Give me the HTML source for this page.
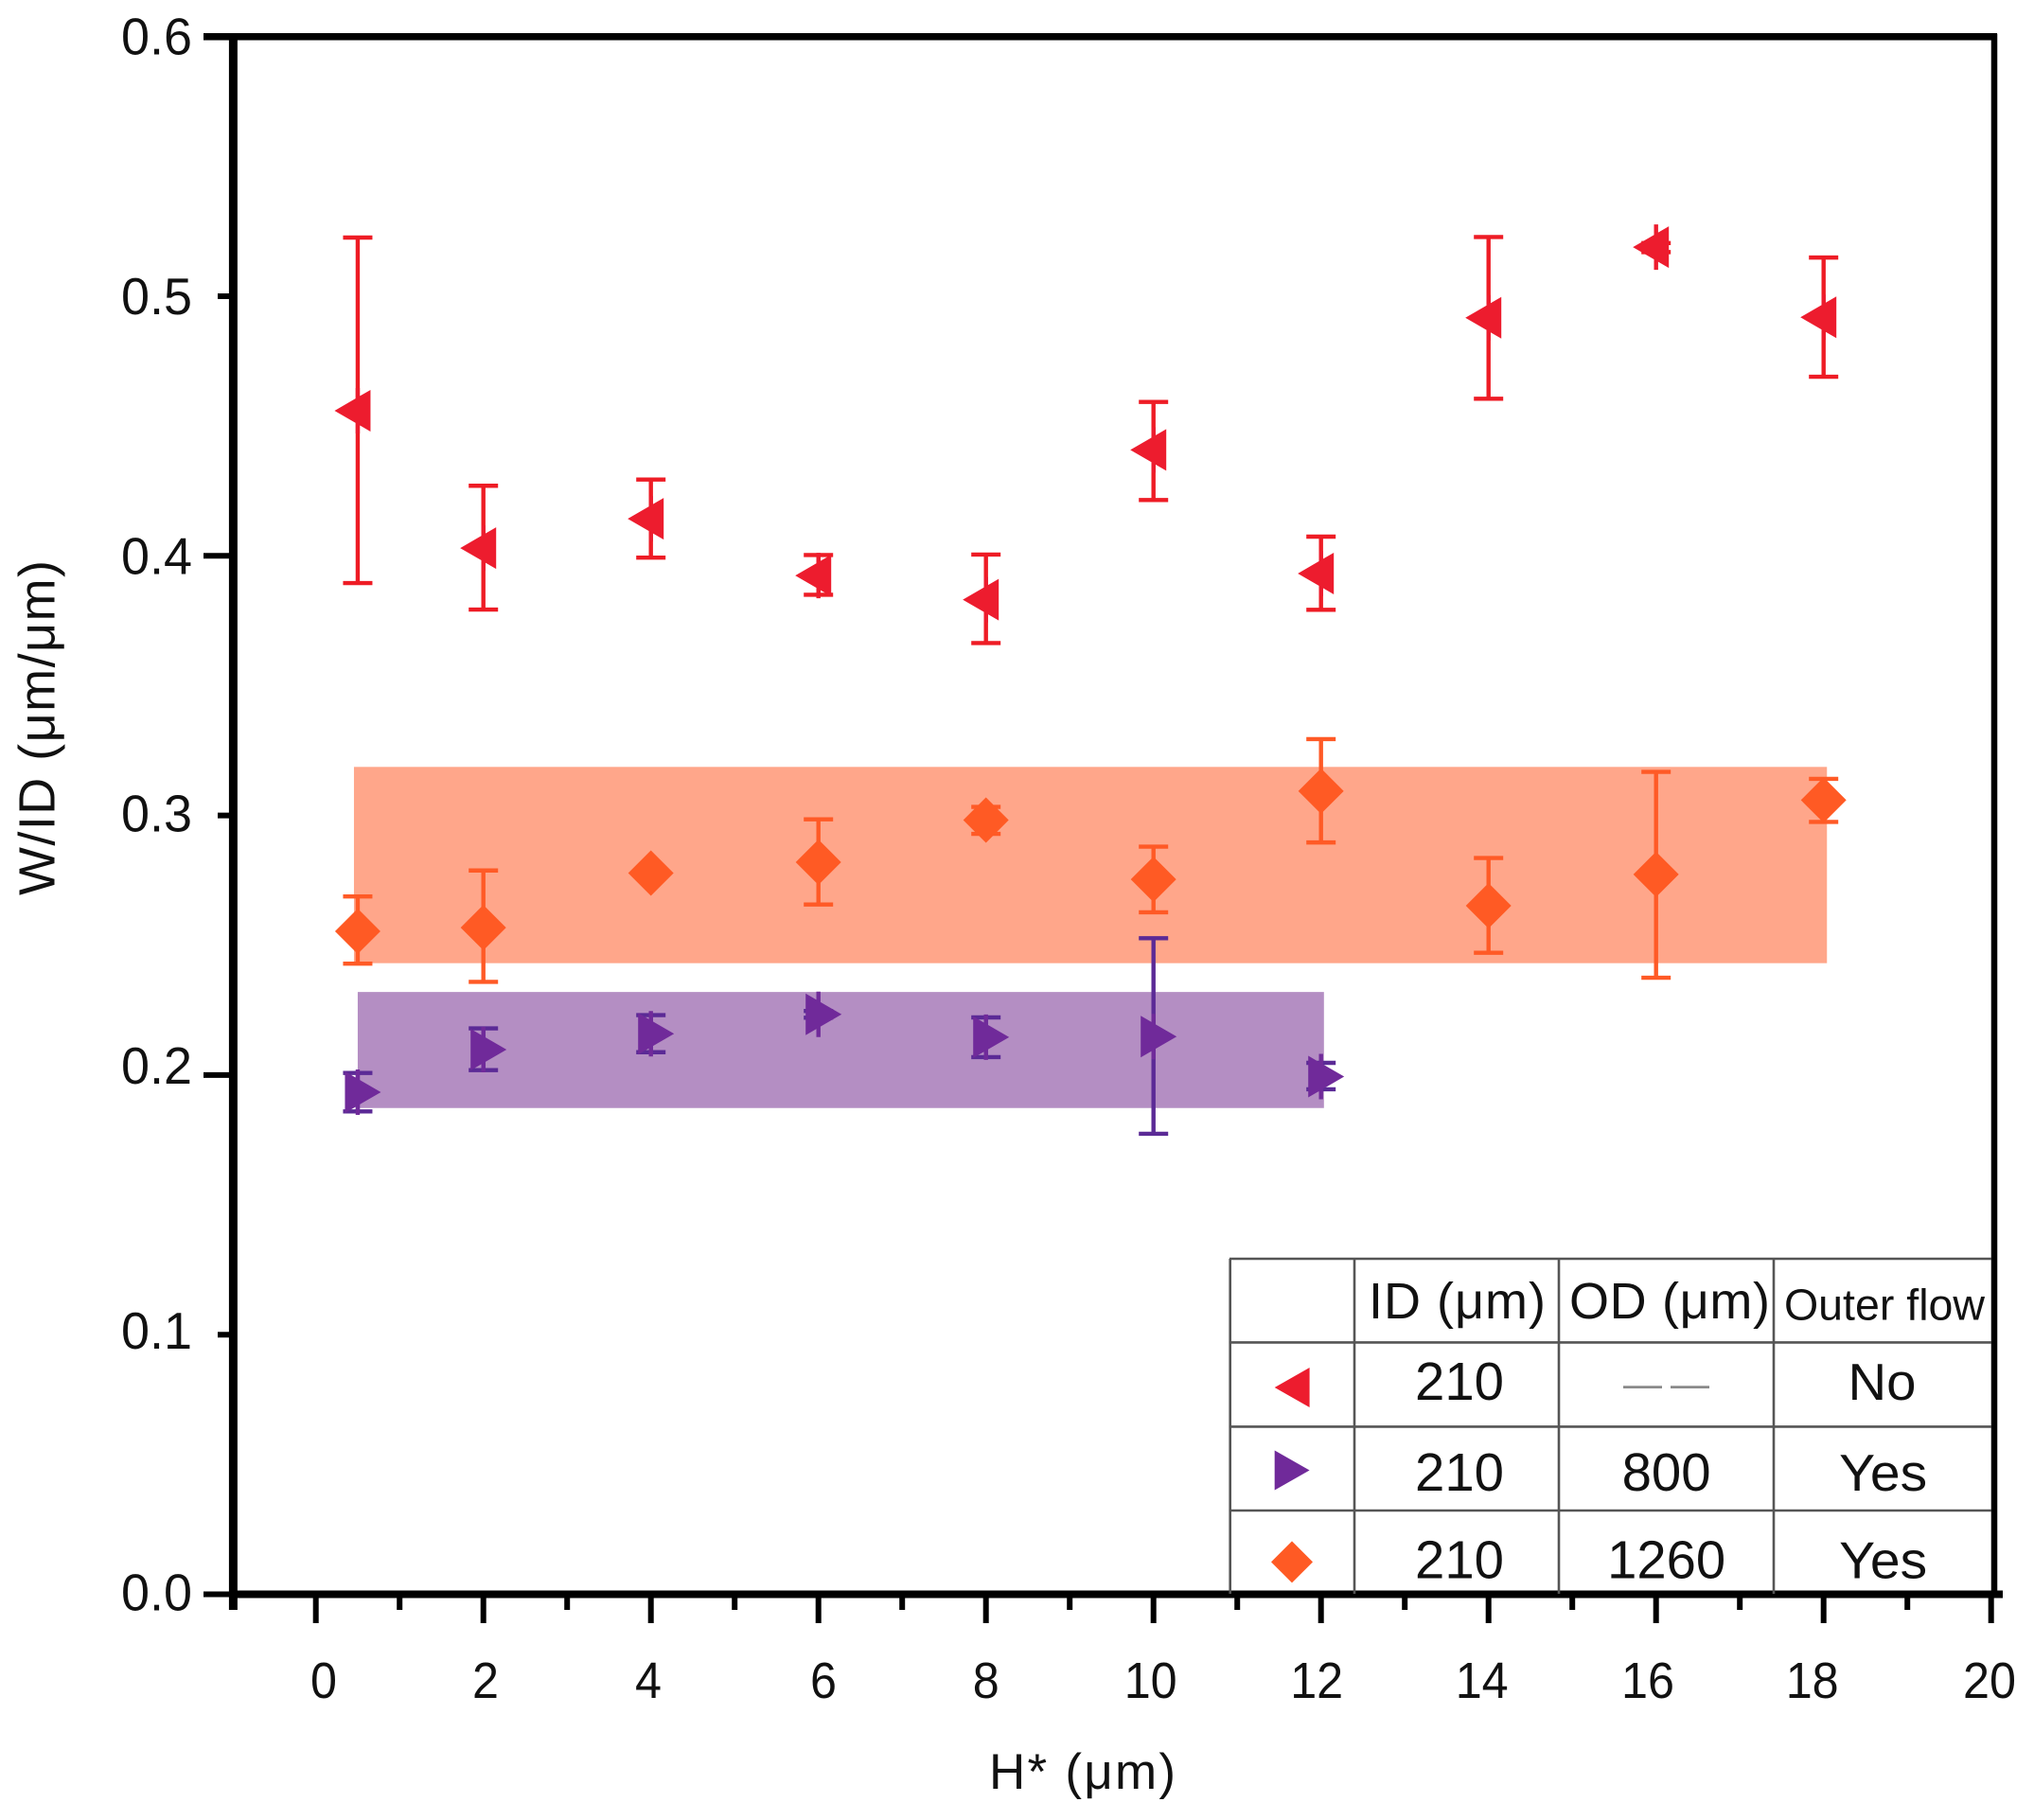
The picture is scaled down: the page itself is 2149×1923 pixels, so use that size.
<!DOCTYPE html>
<html lang="en">
<head>
<meta charset="utf-8">
<title>W/ID versus H*</title>
<style>
html,body{margin:0;padding:0;background:#fff;}
svg{display:block;font-family:"Liberation Sans",Arial,sans-serif;}
text{fill:#111;}
.tb{stroke:#555;stroke-width:2.6;}
</style>
</head>
<body>
<svg id="chart" xmlns="http://www.w3.org/2000/svg" width="2149" height="1923" viewBox="0 0 2149 1923">
  <rect x="0" y="0" width="2149" height="1923" fill="#fff"/>
  <g id="bands"></g>
  <g id="errors"></g>
  <g id="marks"></g>
  <g id="axes"></g>

  <text x="1045" y="1890" font-size="53" textLength="197" lengthAdjust="spacing">H* (μm)</text>
  <text transform="translate(57.3,946) rotate(-90)" x="0" y="0" font-size="54" textLength="354" lengthAdjust="spacing">W/ID (μm/μm)</text>

  <g>
    <g>
      <line class="tb" x1="1299" y1="1330" x2="2104" y2="1330"/>
      <line class="tb" x1="1299" y1="1418.4" x2="2104" y2="1418.4"/>
      <line class="tb" x1="1299" y1="1507.4" x2="2104" y2="1507.4"/>
      <line class="tb" x1="1299" y1="1596" x2="2104" y2="1596"/>
      <line class="tb" x1="1299.7" y1="1330" x2="1299.7" y2="1684"/>
      <line class="tb" x1="1431" y1="1330" x2="1431" y2="1684"/>
      <line class="tb" x1="1647" y1="1330" x2="1647" y2="1684"/>
      <line class="tb" x1="1874" y1="1330" x2="1874" y2="1684"/>
    </g>
    <text x="1446" y="1393" font-size="54" textLength="187" lengthAdjust="spacing">ID (μm)</text>
    <text x="1658" y="1393" font-size="54" textLength="212" lengthAdjust="spacing">OD (μm)</text>
    <text x="1885" y="1394.5" font-size="46" textLength="212" lengthAdjust="spacingAndGlyphs">Outer flow</text>

    <polygon points="1346.7,1466 1383.6,1445 1383.6,1487" fill="#ED1C2E"/>
    <polygon points="1383.6,1553.5 1346.7,1532.5 1346.7,1574.5" fill="#702A9A"/>
    <polygon points="1343,1650.4 1365,1628.4 1387,1650.4 1365,1672.4" fill="#FF5A24"/>

    <text x="1542" y="1479" font-size="57" text-anchor="middle" textLength="94" lengthAdjust="spacingAndGlyphs">210</text>
    <text x="1765" y="1476" font-size="41" text-anchor="middle" letter-spacing="9" style="fill:#8a8a8a">——</text>
    <text x="1988.5" y="1479" font-size="55" text-anchor="middle" textLength="72" lengthAdjust="spacingAndGlyphs">No</text>
    <text x="1542" y="1575" font-size="57" text-anchor="middle" textLength="94" lengthAdjust="spacingAndGlyphs">210</text>
    <text x="1760.6" y="1575" font-size="57" text-anchor="middle" textLength="94" lengthAdjust="spacingAndGlyphs">800</text>
    <text x="1989.6" y="1575" font-size="55" text-anchor="middle" textLength="93" lengthAdjust="spacingAndGlyphs">Yes</text>
    <text x="1542" y="1667.5" font-size="57" text-anchor="middle" textLength="94" lengthAdjust="spacingAndGlyphs">210</text>
    <text x="1760.6" y="1667.5" font-size="57" text-anchor="middle" textLength="125" lengthAdjust="spacingAndGlyphs">1260</text>
    <text x="1989.6" y="1667.5" font-size="55" text-anchor="middle" textLength="93" lengthAdjust="spacingAndGlyphs">Yes</text>
  </g>
</svg>
<script>
// ---- Data ----
const redH = [0.5, 2, 4, 6, 8, 10, 12, 14, 16, 18];
const redW = [0.4559, 0.403, 0.4143, 0.3924, 0.3831, 0.4408, 0.3932, 0.4917, 0.5189, 0.4919];
const redHigh = [0.5226, 0.427, 0.4294, 0.4003, 0.4005, 0.4593, 0.4074, 0.5228, 0.5205, 0.5149];
const redLow = [0.3895, 0.3793, 0.3993, 0.385, 0.3664, 0.4215, 0.3792, 0.4605, 0.517, 0.469];

const orangeH = [0.5, 2, 4, 6, 8, 10, 12, 14, 16, 18];
const orangeW = [0.2554, 0.2568, 0.2778, 0.282, 0.2982, 0.2754, 0.3094, 0.2652, 0.2773, 0.3059];
const orangeHigh = [0.2688, 0.2788, 0.2788, 0.2985, 0.3033, 0.288, 0.3294, 0.2836, 0.3168, 0.3141];
const orangeLow = [0.2429, 0.2359, 0.2768, 0.2657, 0.2929, 0.2627, 0.2896, 0.2471, 0.2375, 0.2975];

const purpleH = [0.5, 2, 4, 6, 8, 10, 12];
const purpleW = [0.1934, 0.2098, 0.2159, 0.2234, 0.2146, 0.2148, 0.1994];
const purpleHigh = [0.2008, 0.218, 0.2231, 0.2247, 0.2222, 0.2527, 0.2047];
const purpleLow = [0.186, 0.2019, 0.2088, 0.2221, 0.2069, 0.1774, 0.1945];

const orangeBandH = [0.455, 18.04];
const orangeBandW = [0.2431, 0.3187];
const purpleBandH = [0.5, 12.035];
const purpleBandW = [0.1873, 0.232];

const xTickValues = [0, 2, 4, 6, 8, 10, 12, 14, 16, 18, 20];
const xTickLabels = ['0', '2', '4', '6', '8', '10', '12', '14', '16', '18', '20'];
const xMinorValues = [-1, 1, 3, 5, 7, 9, 11, 13, 15, 17, 19];
const yTickValues = [0, 0.2, 0.4, 0.6];
const yMinorValues = [0.1, 0.3, 0.5];
const yLabelValues = [0, 0.1, 0.2, 0.3, 0.4, 0.5, 0.6];
const yTickLabels = ['0.0', '0.1', '0.2', '0.3', '0.4', '0.5', '0.6'];

// ---- Axis functions ----
function xScale(v) { return 333.7 + 88.5 * v; }
function yScale(v) { return 1684.5 - 2743 * v; }

const SVGNS = 'http://www.w3.org/2000/svg';
function make(parent, tag, name, props) {
  const el = document.createElementNS(SVGNS, tag);
  
  
  for (const k in props) el.setAttribute(k, props[k]);
  parent.appendChild(el);
  return el;
}

const bandsG = document.getElementById('bands');
const errorsG = document.getElementById('errors');
const marksG = document.getElementById('marks');
const axesG = document.getElementById('axes');

function drawBand(name, hs, ws, fill) {
  make(bandsG, 'rect', name, {
    x: xScale(hs[0]), y: yScale(ws[1]),
    width: xScale(hs[1]) - xScale(hs[0]),
    height: yScale(ws[0]) - yScale(ws[1]),
    fill: fill
  });
}
drawBand('orange-range-band', orangeBandH, orangeBandW, '#FFA68A');
drawBand('purple-range-band', purpleBandH, purpleBandW, '#B48EC3');

function drawError(name, h, hi, lo, color) {
  const x = xScale(h), yh = yScale(hi), yl = yScale(lo);
  make(errorsG, 'path', name, {
    d: 'M' + x + ' ' + yh + 'V' + yl +
       'M' + (x - 15.5) + ' ' + yh + 'H' + (x + 15.5) +
       'M' + (x - 15.5) + ' ' + yl + 'H' + (x + 15.5),
    stroke: color, 'stroke-width': 4.4, fill: 'none'
  });
}

// Triangles carry a short stem through the data x, as the Origin symbols do.
// Both subpaths wind clockwise so the nonzero fill keeps the overlap solid.
function triLeft(name, h, w, color) {
  const x = xScale(h), y = yScale(w);
  make(marksG, 'path', name, {
    d: 'M' + (x - 24.5) + ' ' + y + 'L' + (x + 13.5) + ' ' + (y - 22) + 'V' + (y + 22) + 'Z' +
       'M' + (x - 2.2) + ' ' + (y - 24) + 'h4.4v48h-4.4Z',
    fill: color
  });
}
function triRight(name, h, w, color) {
  const x = xScale(h), y = yScale(w);
  make(marksG, 'path', name, {
    d: 'M' + (x + 24.5) + ' ' + y + 'L' + (x - 13.5) + ' ' + (y + 22) + 'V' + (y - 22) + 'Z' +
       'M' + (x - 2.2) + ' ' + (y - 24) + 'h4.4v48h-4.4Z',
    fill: color
  });
}
function diamond(name, h, w, color) {
  const x = xScale(h), y = yScale(w);
  make(marksG, 'polygon', name, {
    points: (x - 24) + ',' + y + ' ' + x + ',' + (y - 24) + ' ' + (x + 24) + ',' + y + ' ' + x + ',' + (y + 24),
    fill: color
  });
}

orangeH.forEach(function (h, i) {
  drawError('orange-error-bar-' + h, h, orangeHigh[i], orangeLow[i], '#FF5A26');
  diamond('orange-point-' + h, h, orangeW[i], '#FF5A24');
});
purpleH.forEach(function (h, i) {
  drawError('purple-error-bar-' + h, h, purpleHigh[i], purpleLow[i], '#5B2A96');
  triRight('purple-point-' + h, h, purpleW[i], '#702A9A');
});
redH.forEach(function (h, i) {
  drawError('red-error-bar-' + h, h, redHigh[i], redLow[i], '#EE1C25');
  triLeft('red-point-' + h, h, redW[i], '#ED1C2E');
});

// ---- Axes ----
const xLeft = 246.4, xRight = 2107, yTop = 38.8, yBottom = 1684.5;
function axisLine(name, x1, y1, x2, y2, w) {
  make(axesG, 'line', name, { x1: x1, y1: y1, x2: x2, y2: y2, stroke: '#000', 'stroke-width': w });
}
axisLine('top-axis-line', 215, yTop, xRight + 3, yTop, 7.5);
axisLine('right-axis-line', xRight, yTop - 3, xRight, yBottom, 6.5);
axisLine('bottom-axis-line', xLeft - 4, yBottom, 2116, yBottom, 8);
axisLine('left-axis-line', xLeft, yTop - 3, xLeft, 1701, 9);

xTickValues.forEach(function (v) {
  axisLine('x-major-tick-' + v, xScale(v), yBottom, xScale(v), 1715, 6);
});
xMinorValues.forEach(function (v) {
  axisLine('x-minor-tick-' + v, xScale(v), yBottom, xScale(v), 1701, 6);
});
yTickValues.forEach(function (v) {
  axisLine('y-major-tick-' + v, 215, yScale(v), xLeft, yScale(v), 6);
});
yMinorValues.forEach(function (v) {
  axisLine('y-minor-tick-' + v, 230, yScale(v), xLeft, yScale(v), 6);
});

// Tick-label placement nudges to follow the hand-set labels of the figure.
function xLabelNudge(v) {
  if (v === 0) return 8.3;
  if (v === 2) return 2.3;
  if (v === 4) return -2.7;
  if (v === 6) return 5.3;
  if (v === 8) return 0;
  if (v === 10) return -3;
  if (v === 12) return -4.5;
  if (v === 14) return -7;
  if (v === 16) return -8.7;
  if (v === 18) return -12;
  return -1.7;
}
function yLabelNudge(v) {
  if (v === 0) return 17;
  if (v === 0.1) return 15;
  if (v === 0.2) return 9;
  if (v === 0.3) return 17;
  return 19;
}
xTickValues.forEach(function (v, i) {
  const t = make(axesG, 'text', 'x-tick-label-' + xTickLabels[i], {
    x: xScale(v) + xLabelNudge(v), y: 1794, 'font-size': 54, 'text-anchor': 'middle',
    textLength: 28 * xTickLabels[i].length, lengthAdjust: 'spacingAndGlyphs'
  });
  t.textContent = xTickLabels[i];
});
yLabelValues.forEach(function (v, i) {
  const t = make(axesG, 'text', 'y-tick-label-' + yTickLabels[i], {
    x: 203, y: yScale(v) + yLabelNudge(v), 'font-size': 55, 'text-anchor': 'end',
    textLength: 75, lengthAdjust: 'spacingAndGlyphs'
  });
  t.textContent = yTickLabels[i];
});
</script>
</body>
</html>
